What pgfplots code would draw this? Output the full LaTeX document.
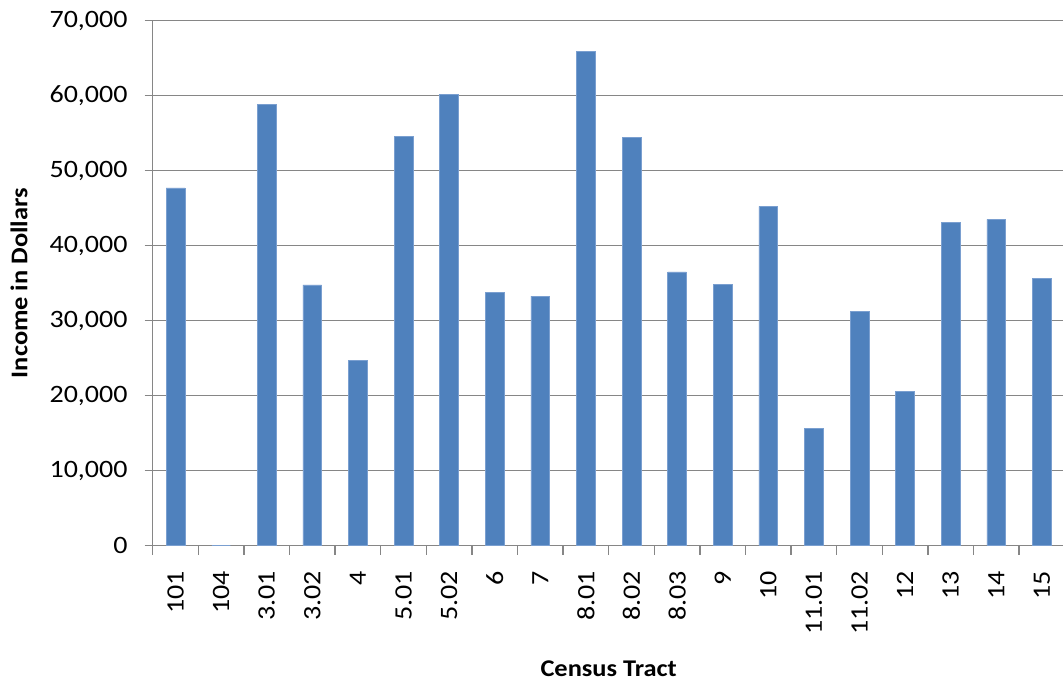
\documentclass[border=0pt]{standalone}
\usepackage{fontspec}
\setmainfont{Carlito}[FakeStretch=1.1]
\newfontfamily\tickfont{Carlito}[FakeStretch=1.12]
\usepackage{pgfplots}
\usepackage{pgfplotstable}
\pgfplotsset{compat=1.18}
\definecolor{barblue}{HTML}{4F81BD}
\definecolor{baredge}{HTML}{7A9FD0}
\definecolor{gridgray}{HTML}{868686}

\pgfplotstableread{
x y
0 47700
1 0
2 58800
3 34750
4 24750
5 54570
6 60160
7 33720
8 33280
9 65890
10 54380
11 36480
12 34790
13 45230
14 15650
15 31200
16 20520
17 43100
18 43500
19 35640
}\datatable

\begin{document}
\begin{tikzpicture}
\begin{axis}[
  at={(152.7pt,140.3pt)}, anchor=south west,
  width=912pt, height=525.2pt, scale only axis,
  xmin=-0.5, xmax=19.5, ymin=0, ymax=70000,
  axis x line*=bottom, axis y line*=left,
  axis line style={gridgray, line width=1.3pt, -},
  ymajorgrids, grid style={gridgray, line width=1.3pt},
  tick style={gridgray, line width=1.3pt},
  tick align=outside,
  major tick length=8pt,
  minor tick length=9pt,
  ytick={0,10000,...,70000},
  scaled y ticks=false,
  /pgf/number format/1000 sep={,},
  /pgf/number format/assume math mode=true,
  xtick={0,...,19},
  xticklabels={101,104,3.01,3.02,4,5.01,5.02,6,7,8.01,8.02,8.03,9,10,11.01,11.02,12,13,14,15},
  major x tick style={draw=none},
  minor xtick={-0.5,0.5,...,19.5},
  tick label style={font=\tickfont\fontsize{25}{29}\selectfont},
  xticklabel style={rotate=90, anchor=east, inner sep=0pt},
  xticklabel shift=17pt,
  yticklabel style={inner sep=0pt, xshift=-17pt},
  label style={font=\bfseries\fontsize{24}{28}\selectfont},
  xlabel={Census Tract},
  ylabel={Income in Dollars},
  xlabel style={at={(axis description cs:0.5,-0.2348)}, anchor=center},
  ylabel style={at={(axis description cs:-0.1466,0.5)}, anchor=center},
]
\addplot[ybar, bar width=18.7pt, fill=barblue, draw=baredge, line width=0.6pt] table[x=x,y=y]{\datatable};
\end{axis}
\pgfresetboundingbox
\useasboundingbox (0pt,0pt) rectangle (1063pt,686pt);
\end{tikzpicture}
\end{document}
